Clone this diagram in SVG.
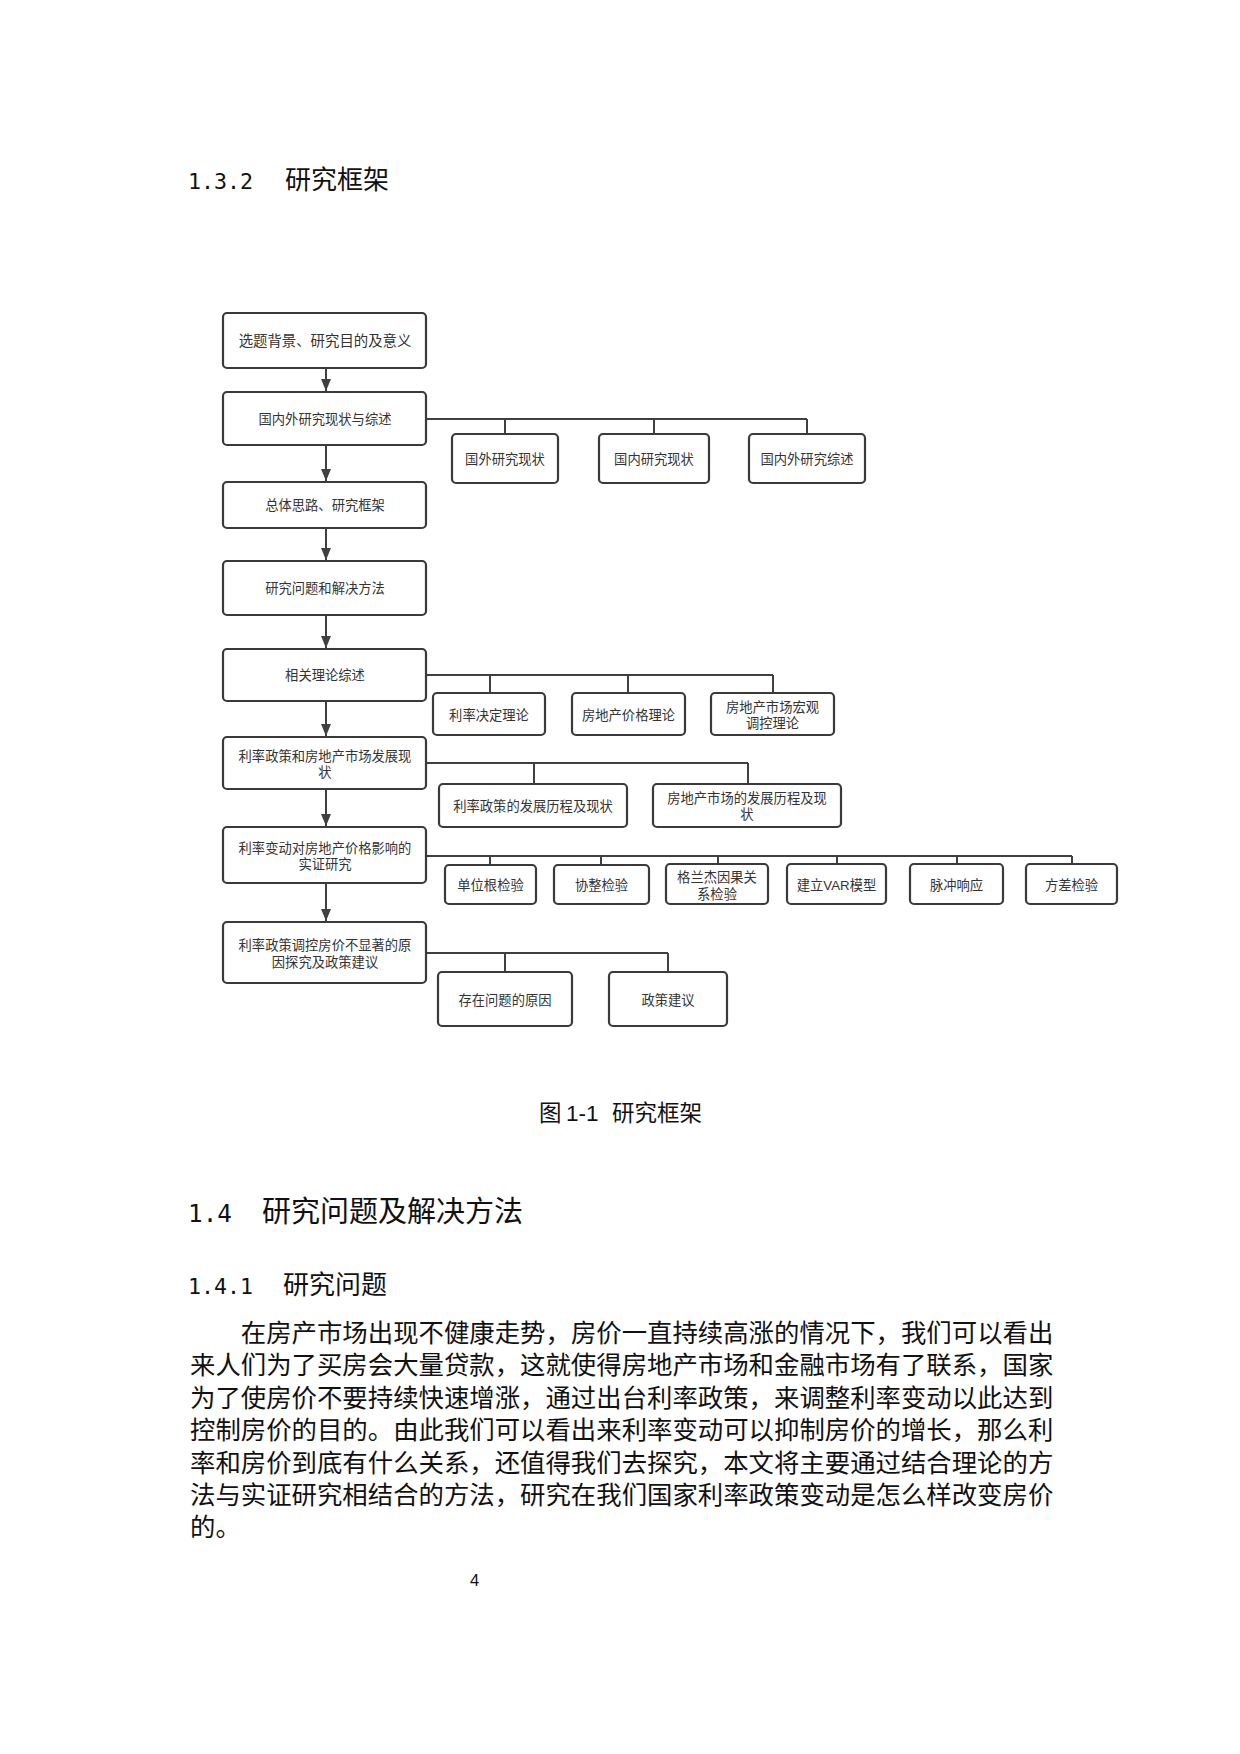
<svg xmlns="http://www.w3.org/2000/svg" width="1240" height="1754" viewBox="0 0 1240 1754">
<style>
.bg{fill:#ffffff}
.box{fill:#ffffff;stroke:#3a3a3a;stroke-width:2.2}
.lbl{font-family:"Liberation Sans","Noto Sans CJK SC",sans-serif;font-size:13.3px;fill:#333333;text-anchor:middle}
.lbl1{font-size:14.4px}
.conn{fill:none;stroke:#404040;stroke-width:2}
.h{font-family:"Liberation Sans","Noto Sans CJK SC",sans-serif;fill:#111111}
.num{font-family:"DejaVu Sans Mono","Liberation Mono",monospace;fill:#111111}
.body{font-family:"Liberation Serif","Noto Sans CJK SC",serif;font-size:25.4px;fill:#111111}
</style>
<defs>
<marker id="arr" viewBox="0 0 12 10" refX="12" refY="5" markerWidth="12" markerHeight="10" orient="auto" markerUnits="userSpaceOnUse">
<path d="M0,0 L12,5 L0,10 z" fill="#404040"/>
</marker>
</defs>
<rect class="bg" x="0" y="0" width="1240" height="1754"/>

<text id="h132"><tspan class="num" x="188" y="189" font-size="21.6">1.3.2</tspan><tspan class="h" x="285" y="189" font-size="26">研究框架</tspan></text>

<g id="connectors">
<line class="conn" x1="326" y1="368" x2="326" y2="391" marker-end="url(#arr)"/>
<line class="conn" x1="326" y1="445" x2="326" y2="481" marker-end="url(#arr)"/>
<line class="conn" x1="326" y1="528" x2="326" y2="560" marker-end="url(#arr)"/>
<line class="conn" x1="326" y1="615" x2="326" y2="648" marker-end="url(#arr)"/>
<line class="conn" x1="326" y1="701" x2="326" y2="736" marker-end="url(#arr)"/>
<line class="conn" x1="326" y1="789" x2="326" y2="826" marker-end="url(#arr)"/>
<line class="conn" x1="326" y1="883" x2="326" y2="921" marker-end="url(#arr)"/>
<path class="conn" d="M426,419 H807 M505,419 V434 M654,419 V434 M807,419 V434"/>
<path class="conn" d="M426,675 H773 M490,675 V693 M628,675 V693 M773,675 V693"/>
<path class="conn" d="M426,763 H748 M534,763 V784 M748,763 V784"/>
<path class="conn" d="M426,856 H1072 M490,856 V865 M601,856 V865 M718,856 V864 M837,856 V864 M957,856 V864 M1072,856 V864"/>
<path class="conn" d="M426,953 H668 M505,953 V972 M668,953 V972"/>
</g>

<g id="n1"><rect class="box" x="223" y="313" width="203" height="55" rx="4"/><text class="lbl lbl1" x="325" y="345.6">选题背景、研究目的及意义</text></g>
<g id="n2"><rect class="box" x="223" y="392" width="203" height="53" rx="4"/><text class="lbl" x="325" y="423.5">国内外研究现状与综述</text></g>
<g id="n3"><rect class="box" x="223" y="482" width="203" height="46" rx="4"/><text class="lbl" x="325" y="510">总体思路、研究框架</text></g>
<g id="n4"><rect class="box" x="223" y="561" width="203" height="54" rx="4"/><text class="lbl" x="325" y="592.7">研究问题和解决方法</text></g>
<g id="n5"><rect class="box" x="223" y="649" width="203" height="52" rx="4"/><text class="lbl" x="325" y="679.7">相关理论综述</text></g>
<g id="n6"><rect class="box" x="223" y="737" width="203" height="52" rx="4"/><text class="lbl" x="325" y="760.7">利率政策和房地产市场发展现</text><text class="lbl" x="325" y="776.7">状</text></g>
<g id="n7"><rect class="box" x="223" y="827" width="203" height="56" rx="4"/><text class="lbl" x="325" y="852.7">利率变动对房地产价格影响的</text><text class="lbl" x="325" y="868.7">实证研究</text></g>
<g id="n8"><rect class="box" x="223" y="922" width="203" height="61" rx="4"/><text class="lbl" x="325" y="949.7">利率政策调控房价不显著的原</text><text class="lbl" x="325" y="966.7">因探究及政策建议</text></g>

<g id="a1"><rect class="box" x="452" y="434" width="106" height="49" rx="4"/><text class="lbl" x="505" y="464">国外研究现状</text></g>
<g id="a2"><rect class="box" x="599" y="434" width="110" height="49" rx="4"/><text class="lbl" x="654" y="464">国内研究现状</text></g>
<g id="a3"><rect class="box" x="749" y="434" width="116" height="49" rx="4"/><text class="lbl" x="807" y="464">国内外研究综述</text></g>

<g id="b1"><rect class="box" x="433" y="693" width="112" height="42" rx="4"/><text class="lbl" x="489" y="719.5">利率决定理论</text></g>
<g id="b2"><rect class="box" x="572" y="693" width="113" height="42" rx="4"/><text class="lbl" x="628.5" y="719.5">房地产价格理论</text></g>
<g id="b3"><rect class="box" x="711" y="693" width="123" height="42" rx="4"/><text class="lbl" x="772.5" y="711.7">房地产市场宏观</text><text class="lbl" x="772.5" y="727.7">调控理论</text></g>

<g id="c1"><rect class="box" x="439" y="784" width="188" height="43" rx="4"/><text class="lbl" x="533" y="810.5">利率政策的发展历程及现状</text></g>
<g id="c2"><rect class="box" x="653" y="784" width="188" height="43" rx="4"/><text class="lbl" x="747" y="802.7">房地产市场的发展历程及现</text><text class="lbl" x="747" y="818.7">状</text></g>

<g id="d1"><rect class="box" x="445" y="865" width="91" height="39" rx="4"/><text class="lbl" x="490.5" y="889.7">单位根检验</text></g>
<g id="d2"><rect class="box" x="554" y="865" width="95" height="39" rx="4"/><text class="lbl" x="601.5" y="889.7">协整检验</text></g>
<g id="d3"><rect class="box" x="666" y="864" width="102" height="40" rx="4"/><text class="lbl" x="717" y="881.7">格兰杰因果关</text><text class="lbl" x="717" y="898.7">系检验</text></g>
<g id="d4"><rect class="box" x="787" y="864" width="99" height="40" rx="4"/><text class="lbl" x="836.5" y="889.7">建立VAR模型</text></g>
<g id="d5"><rect class="box" x="910" y="864" width="93" height="40" rx="4"/><text class="lbl" x="956.5" y="889.7">脉冲响应</text></g>
<g id="d6"><rect class="box" x="1026" y="864" width="91" height="40" rx="4"/><text class="lbl" x="1071.5" y="889.7">方差检验</text></g>

<g id="e1"><rect class="box" x="438" y="972" width="134" height="54" rx="4"/><text class="lbl" x="505" y="1004.7">存在问题的原因</text></g>
<g id="e2"><rect class="box" x="609" y="972" width="118" height="54" rx="4"/><text class="lbl" x="668" y="1004.7">政策建议</text></g>

<text id="caption" class="h" font-size="22.5"><tspan x="539" y="1121">图</tspan><tspan x="566" y="1121">1-1</tspan><tspan x="612" y="1121">研究框架</tspan></text>

<text id="h14"><tspan class="num" x="188" y="1222" font-size="24.3">1.4</tspan><tspan class="h" x="262" y="1222" font-size="29">研究问题及解决方法</tspan></text>
<text id="h141"><tspan class="num" x="188" y="1294" font-size="21.6">1.4.1</tspan><tspan class="h" x="283" y="1294" font-size="26">研究问题</tspan></text>

<g id="body">
<text class="body" x="240.8" y="1342">在房产市场出现不健康走势，房价一直持续高涨的情况下，我们可以看出</text>
<text class="body" x="190" y="1374.4">来人们为了买房会大量贷款，这就使得房地产市场和金融市场有了联系，国家</text>
<text class="body" x="190" y="1406.8">为了使房价不要持续快速增涨，通过出台利率政策，来调整利率变动以此达到</text>
<text class="body" x="190" y="1439.2">控制房价的目的。由此我们可以看出来利率变动可以抑制房价的增长，那么利</text>
<text class="body" x="190" y="1471.6">率和房价到底有什么关系，还值得我们去探究，本文将主要通过结合理论的方</text>
<text class="body" x="190" y="1504">法与实证研究相结合的方法，研究在我们国家利率政策变动是怎么样改变房价</text>
<text class="body" x="190" y="1536.4">的。</text>
</g>

<text id="pagenum" x="474.5" y="1586" font-family="Liberation Sans, Arial, sans-serif" font-size="16.5" text-anchor="middle" fill="#111111">4</text>
</svg>
